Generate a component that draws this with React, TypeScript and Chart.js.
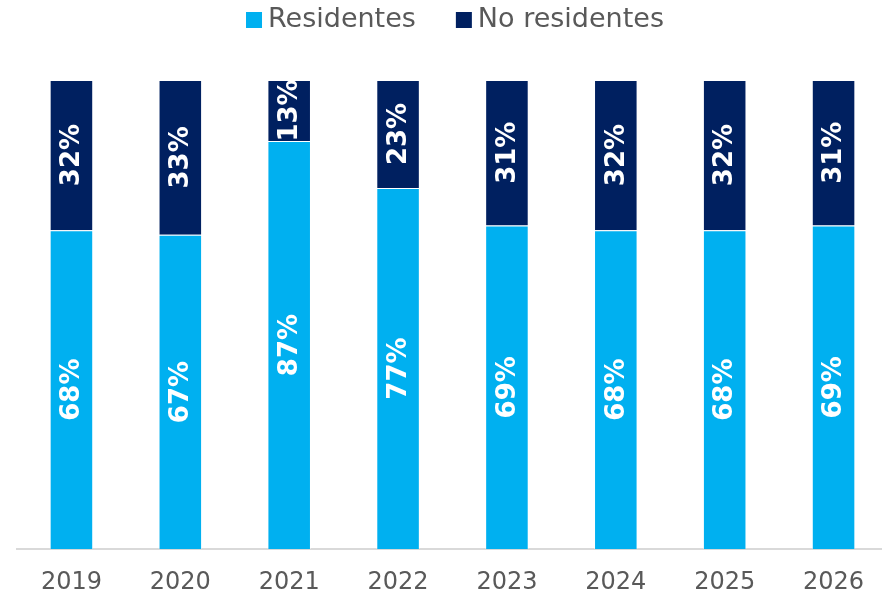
import React, { useEffect, useRef } from "react";
import { Chart, registerables } from "chart.js";

Chart.register(...registerables);

const years = ["2019", "2020", "2021", "2022", "2023", "2024", "2025", "2026"];
const residentes = [68, 67, 87, 77, 69, 68, 68, 69];
const noResidentes = [32, 33, 13, 23, 31, 32, 32, 31];
const seriesNames = ["Residentes", "No residentes"];
const seriesColors = ["#00B0F0", "#002060"];

const FONT = "'DejaVu Sans', sans-serif";

const labelPlugin = {
  id: "rotatedLabels",
  afterDatasetsDraw(chart: any) {
    const ctx = chart.ctx;
    ctx.save();
    ctx.fillStyle = "#ffffff";
    ctx.font = `bold 26px ${FONT}`;
    ctx.textAlign = "center";
    ctx.textBaseline = "middle";
    chart.data.datasets.forEach((ds: any, di: number) => {
      const meta = chart.getDatasetMeta(di);
      meta.data.forEach((el: any, i: number) => {
        const p = el.getProps(["x", "y", "base"], true);
        const cy = (p.y + p.base) / 2;
        ctx.save();
        ctx.translate(p.x + 1, cy);
        ctx.rotate(-Math.PI / 2);
        ctx.fillText(ds.data[i] + "%", 0, 0);
        ctx.restore();
      });
    });
    ctx.restore();
  },
};

const legendPlugin = {
  id: "customLegend",
  afterDraw(chart: any) {
    const ctx = chart.ctx;
    ctx.save();
    ctx.font = `27px ${FONT}`;
    ctx.textBaseline = "middle";
    const gap = 40;
    const box = 16;
    const tgap = 6;
    const widths = seriesNames.map((n) => ctx.measureText(n).width);
    const total = widths.reduce((a, b) => a + b + box + tgap, 0) + gap;
    let x = 455 - total / 2;
    const y = 20;
    seriesNames.forEach((n, i) => {
      ctx.fillStyle = seriesColors[i];
      ctx.fillRect(x, y - box / 2, box, box);
      ctx.fillStyle = "#595959";
      ctx.fillText(n, x + box + tgap, y);
      x += box + tgap + widths[i] + gap;
    });
    ctx.restore();
  },
};

export default function App() {
  const ref = useRef<HTMLCanvasElement>(null);
  useEffect(() => {
    if (!ref.current) return;
    const chart = new Chart(ref.current, {
      type: "bar",
      data: {
        labels: years,
        datasets: [
          {
            label: seriesNames[0],
            data: residentes,
            backgroundColor: seriesColors[0],
            borderColor: "rgba(255,255,255,0.5)",
            borderWidth: 1,
          },
          {
            label: seriesNames[1],
            data: noResidentes,
            backgroundColor: seriesColors[1],
            borderColor: "rgba(255,255,255,0.5)",
            borderWidth: 1,
          },
        ],
      },
      options: {
        animation: false,
        responsive: false,
        maintainAspectRatio: false,
        layout: { padding: { left: 17, right: 2, top: 80, bottom: 0 } },
        plugins: {
          legend: { display: false },
          tooltip: { enabled: false },
        },
        datasets: {
          bar: { barPercentage: 1, categoryPercentage: 0.4 },
        },
        scales: {
          x: {
            stacked: true,
            grid: { display: false },
            border: { display: true, color: "#d9d9d9", width: 2 },
            ticks: {
              color: "#595959",
              font: { family: FONT, size: 24 },
              padding: 11,
            },
          },
          y: {
            stacked: true,
            display: false,
            min: 0,
            max: 100,
          },
        },
      },
      plugins: [labelPlugin, legendPlugin],
    });
    return () => chart.destroy();
  }, []);
  return (
    <div style={{ position: "absolute", left: 0, top: 0, width: 890, height: 608, overflow: "hidden" }}>
      <canvas ref={ref} width={890} height={608} style={{ display: "block" }} />
    </div>
  );
}
